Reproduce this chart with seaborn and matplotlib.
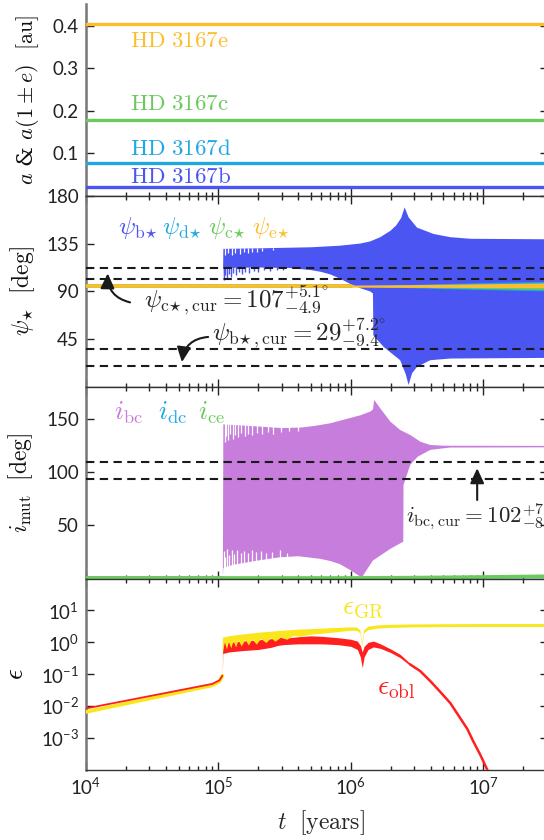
import matplotlib
matplotlib.use("Agg")
import numpy as np
import matplotlib.pyplot as plt
import seaborn as sns
from matplotlib.ticker import FixedLocator, LogLocator, NullFormatter, FuncFormatter

sns.set_theme(style="ticks")
plt.rcParams["font.family"] = ["Lato", "DejaVu Sans"]
plt.rcParams["mathtext.fontset"] = "cm"

# ---------------------------------------------------------------- colours
COL = {"b": "#4b55f2", "d": "#1fa8e1", "c": "#6acb5c", "e": "#fdbe2e",
       "ibc": "#c77ddb", "gr": "#f9e61c", "obl": "#ff1f1f"}

T_SPAN = [1e4, 3.1e7]

# ---------------------------------------------------------------- panel 1: semi-major axes
planets = ["b", "d", "c", "e"]
a_au = [0.0195, 0.0765, 0.178, 0.404]

# ---------------------------------------------------------------- panel 2: stellar obliquities
psi_b_pre_t = [1e4, 3e4, 7e4, 1.0e5, 1.08e5]
psi_b_pre = [95.3, 95.5, 95.8, 96.0, 96.0]

psi_b_up_t = [1.08e5, 1.09e5, 2e5, 5e5, 8.3e5, 9.9e5, 1.18e6, 1.4e6, 1.67e6, 1.99e6,
              2.2e6, 2.4e6, 2.55e6, 2.73e6, 3.16e6, 4.22e6, 5.64e6, 8e6, 3.1e7]
psi_b_up = [96.0, 130, 130.5, 131.5, 133, 134, 135, 137, 141, 147, 152, 159, 169, 159.7,
            150, 144, 141, 139.5, 139]
psi_b_lo_t = [1.08e5, 1.09e5, 2e5, 3.5e5, 5e5, 5.9e5, 7e5, 8.3e5, 9.9e5, 1.18e6, 1.4e6,
              1.47e6, 1.48e6, 1.77e6, 2.36e6, 2.6e6, 2.73e6, 2.9e6, 3.16e6, 3.98e6,
              5.64e6, 3.1e7]
psi_b_lo = [96.0, 112, 112.5, 112, 110, 108.5, 106, 102, 97, 93, 90, 88, 48.7, 37.8, 25.3,
            12, 2, 13, 19, 25.3, 26.9, 27.5]
# downward excursions below the dense oscillation band
psi_b_spike_t = [1.1e5, 1.13e5, 1.16e5, 1.2e5, 1.24e5, 1.29e5, 1.35e5, 1.42e5, 1.5e5,
                 1.6e5, 1.7e5, 1.85e5, 2.0e5, 2.2e5, 2.45e5, 2.75e5, 3.1e5]
psi_b_spike = [101, 105, 103, 106, 104, 107, 105, 108, 106, 108.5, 107, 109.5, 108.5,
               110, 109.5, 110.5, 110.5]
# gaps along the top of the band
psi_b_gap_t = [1.12e5, 1.18e5, 1.26e5, 1.33e5, 1.46e5, 1.55e5, 1.66e5, 1.8e5, 1.95e5,
               2.15e5, 2.6e5]
psi_b_gap = [124, 126, 124.5, 126.5, 125, 127, 126, 127.5, 127, 128, 128.5]

psi_flat = 95.0
fan_t = [1.0e6, 2e6, 4e6, 8e6, 1.5e7, 3.1e7]
psi_d_lo = [95, 94, 93, 92, 91.3, 90.5]
psi_d_hi = [95, 96, 97, 98, 98.8, 99.5]
psi_c_lo = [95, 94.3, 93.6, 93, 92.4, 91.8]
psi_c_hi = [95, 95.5, 96, 96.4, 96.7, 97]
psi_e_lo = [94.0, 93.9, 93.8, 93.7, 93.6, 93.5]
psi_e_hi = [96.0, 96.2, 96.6, 97, 97.5, 98]

psi_c_cur, psi_c_plus, psi_c_minus = 107, 5.1, 4.9
psi_b_cur, psi_b_plus, psi_b_minus = 29, 7.2, 9.4

# ---------------------------------------------------------------- panel 3: mutual inclinations
ibc_up_t = [1.08e5, 1.09e5, 2e5, 3e5, 4.2e5, 5.3e5, 7e5, 9.9e5, 1.18e6, 1.4e6, 1.47e6,
            1.5e6, 1.67e6, 1.99e6, 2.36e6, 2.81e6, 3.35e6, 3.98e6, 5e6, 3.1e7]
ibc_up = [1.5, 145, 143, 141.5, 142, 143.5, 146, 151, 153.5, 157, 159, 168, 160, 147.5,
          139.7, 135, 128.7, 125.6, 124.9, 124.7]
ibc_lo_t = [1.08e5, 1.09e5, 1.3e5, 2e5, 2.9e5, 4e5, 4.7e5, 5.9e5, 7e5, 8.3e5, 9.9e5,
            1.21e6, 1.3e6, 1.47e6, 1.99e6, 2.49e6, 2.5e6, 2.81e6, 3.2e6, 3.98e6, 5.6e6,
            3.1e7]
ibc_lo = [1.5, 10, 13, 17, 20, 21, 20, 18.5, 16.5, 13.5, 8, 1, 7, 17, 28, 34.7, 88, 107,
          114.6, 121, 123.2, 123.4]
# gaps along the top and bottom of the band
ibc_gap_hi_t = [1.12e5, 1.15e5, 1.19e5, 1.23e5, 1.28e5, 1.34e5, 1.41e5, 1.49e5, 1.58e5,
                1.68e5, 1.8e5, 1.95e5, 2.12e5, 2.35e5, 2.6e5, 2.95e5, 3.4e5, 4e5]
ibc_gap_hi = [128, 134, 130, 136, 131, 135, 133, 137, 134, 136, 135, 137, 136, 137.5,
              136, 138, 138.5, 139]
ibc_gap_lo_t = [1.1e5, 1.13e5, 1.17e5, 1.21e5, 1.26e5, 1.32e5, 1.39e5, 1.47e5, 1.56e5,
                1.66e5, 1.78e5, 1.92e5, 2.1e5, 2.3e5, 2.55e5, 2.9e5, 3.3e5]
ibc_gap_lo = [26, 20, 28, 22, 27, 23, 27, 24, 26, 24, 27, 25, 26, 24, 25, 27, 24]
ibc_pre_t = [1e4, 1.08e5]
ibc_pre = [1.5, 1.5]

low_t = [1e4, 1e6, 3e6, 1e7, 3.1e7]
idc_lo = [0.3, 0.3, 0.4, 0.6, 0.8]
idc_hi = [0.6, 0.6, 1.5, 2.8, 3.6]
ice = [0.6, 0.6, 0.9, 1.5, 2.2]

ibc_cur, ibc_plus, ibc_minus = 102, 7.4, 8.0

# ---------------------------------------------------------------- panel 4: precession ratios
eps_pre_t = [1e4, 9e4, 1.02e5, 1.07e5]
eps_gr_pre = [6.6e-3, 4.5e-2, 6.0e-2, 9e-2]
eps_obl_pre = [8.5e-3, 5.0e-2, 6.5e-2, 9e-2]

gr_up_t = [1.07e5, 1.08e5, 1.2e5, 1.5e5, 2e5, 3e5, 4e5, 6e5, 8e5, 1.0e6, 1.12e6, 1.18e6,
           1.22e6, 1.26e6, 1.35e6, 1.6e6, 2e6, 3e6, 5e6, 1e7, 3.1e7]
gr_up = [9e-2, 1.4, 1.55, 1.75, 2.0, 2.3, 2.5, 2.7, 2.85, 2.95, 2.9, 2.4, 0.9, 2.4, 3.1,
         3.4, 3.55, 3.65, 3.7, 3.75, 3.75]
gr_lo_t = [1.07e5, 1.08e5, 1.12e5, 1.16e5, 1.2e5, 1.25e5, 1.3e5, 1.36e5, 1.42e5, 1.5e5,
           1.6e5, 1.7e5, 1.8e5, 1.95e5, 2.1e5, 2.3e5, 2.5e5, 2.7e5, 3.0e5, 3.3e5, 3.7e5,
           4.2e5, 5e5, 6e5, 8e5, 1.0e6, 1.12e6, 1.18e6, 1.22e6, 1.26e6, 1.35e6, 1.6e6,
           2e6, 3e6, 5e6, 1e7, 3.1e7]
gr_lo = [9e-2, 0.5, 1.0, 0.6, 1.05, 0.65, 1.1, 0.7, 1.15, 0.75, 1.2, 0.8, 1.25, 0.85,
         1.3, 0.95, 1.35, 1.05, 1.45, 1.2, 1.6, 1.5, 1.75, 1.85, 2.1, 2.3, 2.3, 1.9, 0.75,
         1.9, 2.4, 2.7, 2.85, 2.95, 3.0, 3.05, 3.05]

obl_band_t = [1.07e5, 1.08e5, 1.2e5, 1.5e5, 2e5, 2.5e5, 2.8e5, 3.1e5, 4e5, 5e5, 6e5,
              8e5, 1.0e6, 1.12e6, 1.18e6, 1.22e6, 1.26e6, 1.35e6, 1.48e6, 1.67e6, 2e6,
              2.36e6, 2.8e6]
obl_up = [9e-2, 1.1, 1.0, 1.1, 1.2, 1.3, 1.6, 1.35, 1.5, 1.6, 1.55, 1.4, 1.25, 1.1, 0.8,
          0.5, 0.75, 1.0, 1.1, 0.9, 0.62, 0.42, 0.22]
obl_lo = [9e-2, 0.45, 0.5, 0.55, 0.6, 0.7, 0.8, 0.85, 0.9, 0.9, 0.9, 0.85, 0.75, 0.6,
          0.35, 0.16, 0.35, 0.6, 0.72, 0.65, 0.48, 0.33, 0.19]
obl_tail_t = [2.8e6, 3.35e6, 4.0e6, 4.74e6, 5.64e6, 6.71e6, 7.6e6, 8.42e6, 9.5e6, 1.075e7, 1.12e7]
obl_tail = [0.205, 0.125, 0.06, 0.028, 1.25e-2, 4.2e-3, 1.9e-3, 7.8e-4, 3.0e-4, 1e-4, 6e-5]

# ---------------------------------------------------------------- figure and axes
fig = plt.figure(figsize=(5.44, 8.4), dpi=100)
L, W, H = 0.1581, 0.8498, 0.2279
bottoms = [0.76703, 0.53913, 0.31123, 0.08333]
axes = [fig.add_axes([L, b, W, H]) for b in bottoms]
ax1, ax2, ax3, ax4 = axes

MATH = 17
TXT = 18
DASH = dict(color="k", lw=1.5, ls=(0, (4, 2.6)), zorder=6)
ARROW = "-|>,head_length=0.75,head_width=0.35"


def band(ax, t_up, up, t_lo, lo, color, z=2):
    xs = np.r_[t_up, t_lo[::-1]]
    ys = np.r_[up, lo[::-1]]
    ax.fill(xs, ys, color=color, lw=0, zorder=z)


def line(ax, t, y, color, lw, z=3):
    sns.lineplot(x=t, y=y, ax=ax, color=color, lw=lw, estimator=None, sort=False,
                 zorder=z, legend=False)


def arrow(ax, tip, tail, rad=0.0):
    ax.annotate("", xy=tip, xytext=tail, zorder=8,
                arrowprops=dict(arrowstyle=ARROW, color="k", lw=1.5, shrinkA=0,
                                shrinkB=0, connectionstyle="arc3,rad=%g" % rad))


for ax in axes:
    ax.set_xscale("log")
    ax.set_xlim(1e4, 3.1e7)
    ax.set_xlabel("")
    ax.set_ylabel("")

# ---- panel 1
for p, a in zip(planets, a_au):
    line(ax1, T_SPAN, [a, a], COL[p], 2.4)
label_y = {"e": 0.364, "c": 0.217, "d": 0.112, "b": 0.044}
for p in planets:
    ax1.text(2.15e4, label_y[p], r"$\mathrm{HD\ 3167%s}$" % p, color=COL[p],
             fontsize=16.5, va="center", ha="left")
ax1.set_ylim(0, 0.45)
ax1.yaxis.set_major_locator(FixedLocator([0.1, 0.2, 0.3, 0.4]))
ax1.set_ylabel(r"$a$ & $a(1 \pm e)$  $[\mathrm{au}]$", fontsize=MATH - 1,
               family=["DejaVu Serif"])

# ---- panel 2
line(ax2, psi_b_pre_t, psi_b_pre, COL["b"], 1.2, z=2)
band(ax2, psi_b_up_t, psi_b_up, psi_b_lo_t, psi_b_lo, COL["b"], z=2)
ax2.vlines(psi_b_spike_t, psi_b_spike, 113, color=COL["b"], lw=1.0, zorder=2)
ax2.vlines(psi_b_gap_t, psi_b_gap, 131, color="white", lw=0.9, zorder=2.1)
for p in ["d", "c", "e"]:
    line(ax2, [1e4, 1.0e6], [psi_flat, psi_flat], COL[p], 2.6, z=3)
ax2.fill_between(fan_t, psi_d_lo, psi_d_hi, color=COL["d"], lw=0, zorder=3)
ax2.fill_between(fan_t, psi_c_lo, psi_c_hi, color=COL["c"], lw=0, zorder=3.1)
ax2.fill_between(fan_t, psi_e_lo, psi_e_hi, color=COL["e"], lw=0, zorder=3.2)
for v in [psi_c_cur + psi_c_plus, psi_c_cur - psi_c_minus,
          psi_b_cur + psi_b_plus, psi_b_cur - psi_b_minus]:
    ax2.axhline(v, **DASH)
psi_names = [("b", 1.75e4), ("d", 3.75e4), ("c", 8.36e4), ("e", 1.8e5)]
for p, tx in psi_names:
    ax2.text(tx, 150, r"$\psi_{\mathrm{%s}\!\star}$" % p, color=COL[p], fontsize=TXT,
             va="center", ha="left")
ax2.text(2.74e4, 81.5,
         r"$\psi_{\mathrm{c}\!\star,\mathrm{cur}} = %d^{+%.1f^{\circ}}_{-%.1f}$"
         % (psi_c_cur, psi_c_plus, psi_c_minus), fontsize=TXT, va="center", ha="left",
         zorder=8)
arrow(ax2, (1.46e4, 107.0), (2.15e4, 79.7), rad=-0.4)
ax2.text(8.9e4, 50.6,
         r"$\psi_{\mathrm{b}\!\star,\mathrm{cur}} = %d^{+%.1f^{\circ}}_{-%.1f}$"
         % (psi_b_cur, psi_b_plus, psi_b_minus), fontsize=TXT, va="center", ha="left",
         zorder=8)
arrow(ax2, (5.3e4, 23.5), (8.36e4, 47.2), rad=0.4)
ax2.set_ylim(0, 180)
ax2.yaxis.set_major_locator(FixedLocator([45, 90, 135, 180]))
ax2.set_ylabel(r"$\psi_{\star}\ \ [\mathrm{deg}]$", fontsize=MATH)

# ---- panel 3
line(ax3, ibc_pre_t, ibc_pre, COL["ibc"], 1.2, z=2)
band(ax3, ibc_up_t, ibc_up, ibc_lo_t, ibc_lo, COL["ibc"], z=2)
ax3.vlines(ibc_gap_hi_t, ibc_gap_hi, 147, color="white", lw=0.9, zorder=2.1)
ax3.vlines(ibc_gap_lo_t, 3, ibc_gap_lo, color="white", lw=0.9, zorder=2.1)
ax3.fill_between(low_t, idc_lo, idc_hi, color=COL["d"], lw=0, zorder=3)
line(ax3, low_t, ice, COL["c"], 2.6, z=3.2)
for v in [ibc_cur + ibc_plus, ibc_cur - ibc_minus]:
    ax3.axhline(v, **DASH)
i_names = [("bc", "ibc", 1.64e4), ("dc", "d", 3.5e4), ("ce", "c", 7.0e4)]
for sub, ck, tx in i_names:
    ax3.text(tx, 156, r"$i_{\mathrm{%s}}$" % sub, color=COL[ck], fontsize=TXT + 1,
             va="center", ha="left")
ax3.text(2.6e6, 58.2,
         r"$i_{\mathrm{bc},\mathrm{cur}}{=}%d^{+%.1f^{\circ}}_{-%.1f}$"
         % (ibc_cur, ibc_plus, ibc_minus), fontsize=16.5, va="center", ha="left",
         zorder=8, clip_on=False)
arrow(ax3, (9.0e6, 103.7), (9.0e6, 73.9))
ax3.set_ylim(0, 180)
ax3.yaxis.set_major_locator(FixedLocator([50, 100, 150]))
ax3.set_ylabel(r"$i_{\mathrm{mut}}\ \ [\mathrm{deg}]$", fontsize=MATH)

# ---- panel 4
ax4.set_yscale("log")
line(ax4, eps_pre_t, eps_gr_pre, COL["gr"], 2.6, z=3)
line(ax4, eps_pre_t, eps_obl_pre, COL["obl"], 1.3, z=3.1)
ax4.fill_between(obl_band_t, obl_lo, obl_up, color=COL["obl"], lw=0, zorder=3.2)
line(ax4, obl_tail_t, obl_tail, COL["obl"], 1.8, z=3.2)
band(ax4, gr_up_t, gr_up, gr_lo_t, gr_lo, COL["gr"], z=3.4)
ax4.text(8.6e5, 12, r"$\epsilon_{\mathrm{GR}}$", color=COL["gr"], fontsize=TXT + 2,
         va="center", ha="left")
ax4.text(1.57e6, 0.037, r"$\epsilon_{\mathrm{obl}}$", color=COL["obl"], fontsize=TXT + 2,
         va="center", ha="left")
ax4.set_ylim(1e-4, 1e2)
ax4.yaxis.set_major_locator(FixedLocator([1e-3, 1e-2, 1e-1, 1, 10]))
ax4.yaxis.set_minor_locator(LogLocator(base=10, subs=np.arange(2, 10)))
ax4.yaxis.set_minor_formatter(NullFormatter())
ax4.yaxis.set_major_formatter(
    FuncFormatter(lambda v, _: r"$\mathregular{10^{%d}}$" % int(round(np.log10(v)))))
ax4.set_ylabel(r"$\epsilon$", fontsize=MATH + 2)

# ---- shared styling
for i, ax in enumerate(axes):
    ax.xaxis.set_major_locator(LogLocator(base=10, numticks=10))
    ax.xaxis.set_minor_locator(LogLocator(base=10, subs=np.arange(2, 10), numticks=20))
    ax.xaxis.set_minor_formatter(NullFormatter())
    ax.tick_params(which="both", direction="in", top=(i > 0), right=True,
                   colors="#222222", labelsize=13.5, width=1.0, pad=5)
    ax.tick_params(which="major", length=5.5)
    ax.tick_params(which="minor", length=3)
    for s in ["top", "bottom", "right"]:
        ax.spines[s].set_color("#333333")
        ax.spines[s].set_linewidth(1.0)
    ax.spines["left"].set_color("#777777")
    ax.spines["left"].set_linewidth(1.8)
    ax.yaxis.label.set_color("#111111")
    if i < 3:
        ax.tick_params(axis="x", which="both", labelbottom=False)
ax1.spines["top"].set_visible(False)

ax4.xaxis.set_major_formatter(
    FuncFormatter(lambda v, _: r"$\mathregular{10^{%d}}$" % int(round(np.log10(v)))))
ax4.set_xlabel(r"$t\ \ [\mathrm{years}]$", fontsize=MATH)
ax4.xaxis.set_label_coords(0.508, -0.2)

for ax, xl in zip(axes, [-0.098, -0.105, -0.11, -0.125]):
    ax.yaxis.set_label_coords(xl, 0.5)

fig.savefig("out.png", dpi=100)
